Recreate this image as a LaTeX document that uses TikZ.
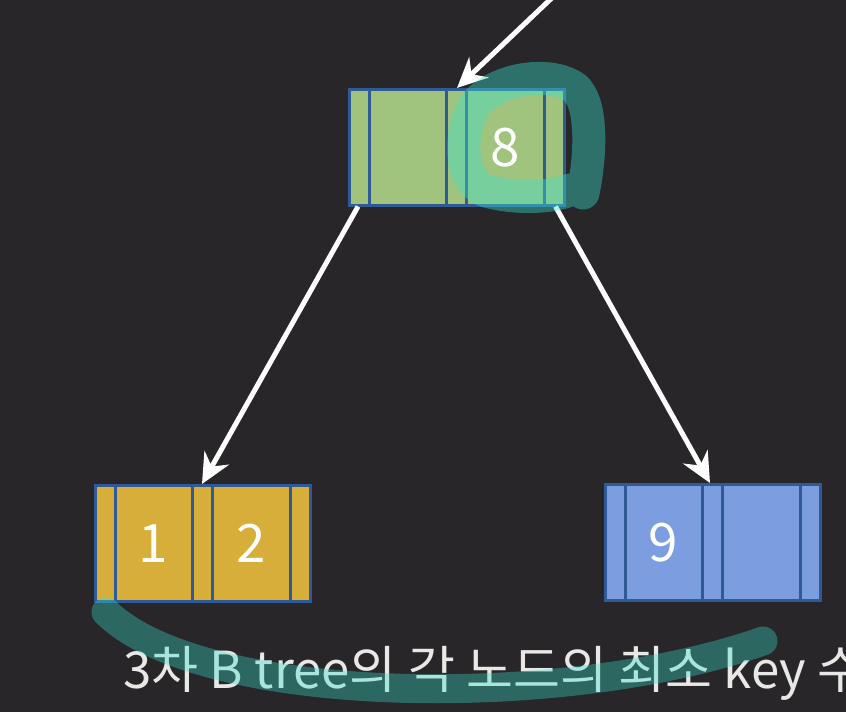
\documentclass[tikz,border=0pt]{standalone}
\usepackage{fontspec}
\setmainfont{Noto Sans CJK KR}
\usetikzlibrary{arrows.meta}
\definecolor{bg}{HTML}{282628}
\definecolor{ngreen}{HTML}{A0C47D}
\definecolor{nyellow}{HTML}{D8AE3A}
\definecolor{nblue}{HTML}{7C9DE0}
\definecolor{edgeblue}{HTML}{2F5A96}
\definecolor{txt}{HTML}{E8E8E6}
\definecolor{hlc}{RGB}{55,225,205}
\tikzset{
  bnode/.style={draw=edgeblue, line width=2.5pt, minimum width=215pt, minimum height=116pt, inner sep=0pt, anchor=north west},
  divider/.style={draw=edgeblue, line width=3pt},
  digit/.style={text=white, font=\fontsize{53}{56}\selectfont, inner sep=0pt},
  arr/.style={draw=white, line width=5pt, -{Stealth[length=30pt,width=28pt,inset=10pt]}},
  hl/.style={draw=hlc, draw opacity=0.4, line width=31pt, line cap=round, line join=round},
}
\begin{document}
\begin{tikzpicture}[x=1pt,y=-1pt]
\clip (0,0) rectangle (846,712);
\fill[bg] (0,0) rectangle (846,712);

% nodes
\node[bnode, fill=ngreen] (root) at (348,88) {};
\node[bnode, fill=nyellow] (leafL) at (94,484) {};
\node[bnode, fill=nblue] (leafR) at (604,483) {};
\foreach \n in {root,leafL,leafR}{
  \foreach \d in {21,98,118,196}{
    \draw[divider] ([xshift=\d pt]\n.north west) -- ([xshift=\d pt]\n.south west);
  }
}
\node[digit] (k8) at ([xshift=157pt]root.west) {8};
\node[digit] (k1) at ([xshift=59.5pt]leafL.west) {1};
\node[digit] (k2) at ([xshift=157pt]leafL.west) {2};
\node[digit] (k9) at ([xshift=59.5pt]leafR.west) {9};

% arrows
\coordinate (top) at (556,-6);
\draw[arr] (top) -- ([xshift=109pt]root.north west);
\draw[arr] ([xshift=10pt]root.south west) -- ([xshift=108pt]leafL.north west);
\draw[arr] ([xshift=-10pt]root.south east) -- ([xshift=106pt]leafR.north west);

% caption
\node[anchor=base west, text=txt, font=\fontsize{51}{56}\selectfont, inner sep=0pt] (cap) at (123,688) {3차 B tree의 각 노드의 최소 key 수};

% highlights
\draw[hl, line width=33pt] (583,193) .. controls (590,160) and (594,105) .. (575,88)
  .. controls (550,70) and (495,78) .. (474,106)
  .. controls (458,136) and (460,182) .. (486,191)
  .. controls (515,199) and (550,198) .. (570,190);
\draw[hl, draw opacity=0.35, line width=29pt] (106,612) .. controls (200,705) and (560,712) .. (763,641);
\end{tikzpicture}
\end{document}
